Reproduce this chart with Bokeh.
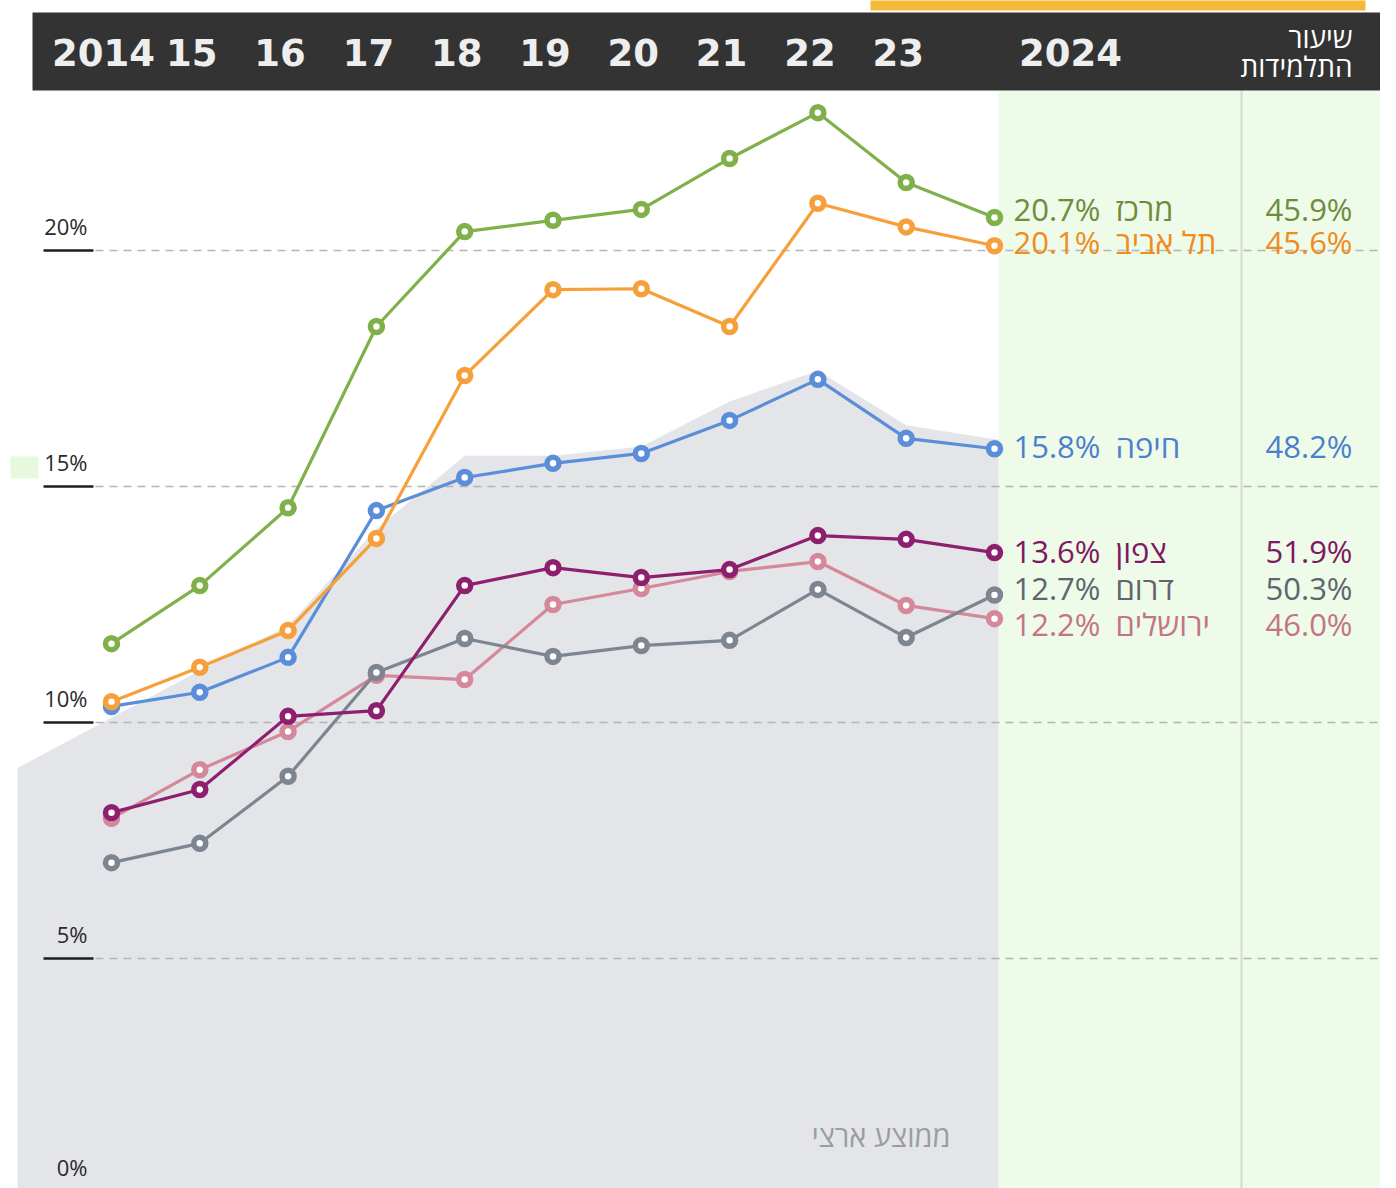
from bokeh.plotting import figure
from bokeh.models import Range1d, ColumnDataSource
from bokeh.core.properties import value
from bokeh.embed import file_html
from bokeh.resources import INLINE

# ---------------- data ----------------
years = [2014, 2015, 2016, 2017, 2018, 2019, 2020, 2021, 2022, 2023, 2024]
header_labels = ["2014", "15", "16", "17", "18", "19", "20", "21", "22", "23", "2024"]
regions = ["מרכז", "תל אביב", "חיפה", "צפון", "דרום", "ירושלים"]
center = [11.67, 12.9, 14.55, 18.39, 20.4, 20.64, 20.87, 21.95, 22.92, 21.44, 20.7]
tel_aviv = [10.44, 11.17, 11.95, 13.9, 17.35, 19.17, 19.19, 18.39, 21.0, 20.5, 20.1]
haifa = [10.34, 10.64, 11.38, 14.49, 15.19, 15.49, 15.7, 16.4, 17.27, 16.02, 15.8]
north = [8.09, 8.58, 10.13, 10.25, 12.9, 13.28, 13.07, 13.24, 13.96, 13.88, 13.6]
south = [7.03, 7.44, 8.86, 11.06, 11.78, 11.4, 11.63, 11.74, 12.82, 11.8, 12.7]
jerusalem = [7.97, 9.0, 9.81, 11.0, 10.91, 12.5, 12.84, 13.2, 13.41, 12.48, 12.2]
national = [10.1, 11.1, 12.05, 14.1, 15.65, 15.65, 15.85, 16.8, 17.45, 16.3, 16.0]
female_share = [45.9, 45.6, 48.2, 51.9, 50.3, 46.0]
y_ticks = [0, 5, 10, 15, 20]
header_title = ["שיעור", "התלמידות"]
national_label = "ממוצע ארצי"

series = [center, tel_aviv, haifa, north, south, jerusalem]

# ---------------- styles / layout ----------------
line_colors = ["#80b04a", "#f5a03a", "#5b8ed8", "#8e1f6e", "#7d8690", "#d4889a"]
text_colors = ["#6f8c3c", "#ef8c1f", "#4d7fcc", "#7f1862", "#5d6670", "#c47585"]
label_shift_px = [8, 4, 3, 2, 7, -5]  # label nudge (screen px, up positive)
draw_order = [5, 4, 3, 2, 1, 0]

W, H = 1380, 1188
OFF = 0            # page offset of the canvas
X2014 = 111.0      # px of 2014
PXY = 88.3         # px per year
Y0 = 1194.0        # px of 0%
PXV = 47.2         # px per percentage point


def xd(px):
    return 2014 + (px - X2014) / PXY


def yd(py):
    return (Y0 - py) / PXV


p = figure(width=W, height=H, output_backend="svg", toolbar_location=None,
           x_range=Range1d(xd(OFF), xd(OFF + W)),
           y_range=Range1d(yd(OFF + H), yd(OFF)),
           min_border=0, outline_line_color=None,
           background_fill_color="white", border_fill_color="white")
p.xaxis.visible = False
p.yaxis.visible = False
p.grid.visible = False

# background panels
p.quad(left=[xd(870)], right=[xd(1365)], top=[yd(-20)], bottom=[yd(10)],
       fill_color="#f5b935", line_color=None)
p.quad(left=[xd(998)], right=[xd(1380)], top=[yd(90)], bottom=[yd(1300)],
       fill_color="#eefbe8", line_color=None)
p.segment(x0=[xd(1241)], x1=[xd(1241)], y0=[yd(90)], y1=[yd(1300)],
          line_color="#d3dbd0", line_width=2)
p.quad(left=[xd(10)], right=[xd(38)], top=[yd(456)], bottom=[yd(478)],
       fill_color="#e6f8dd", line_color=None)

# national average area
slope0 = national[1] - national[0]
xl = xd(17)
xr = xd(998)
area_x = [xl] + years + [xr]
area_y = [national[0] + slope0 * (xl - years[0])] + national + [national[-1]]
p.varea(x=area_x, y1=[yd(1300)] * len(area_x), y2=area_y, fill_color="#e3e5e9")

# gridlines and ticks
p.segment(x0=[xd(95)] * len(y_ticks), x1=[xd(1380)] * len(y_ticks),
          y0=y_ticks, y1=y_ticks, line_color="#b4b4b4", line_width=1.5,
          line_dash="8 6")
p.segment(x0=[xd(43)] * len(y_ticks), x1=[xd(93)] * len(y_ticks),
          y0=y_ticks, y1=y_ticks, line_color="#1e1e1e", line_width=2.5)
tick_label_y = [max(t + 25 / PXV, yd(1166)) for t in y_ticks]
p.text(x=[xd(87)] * len(y_ticks), y=tick_label_y,
       text=[f"{t}%" for t in y_ticks], text_align="right",
       text_baseline="middle", text_font=value("Open Sans"),
       text_font_size="22px", text_color="#2a2a2a")

p.text(x=[xd(950)], y=[yd(1135)], text=[national_label], text_align="right",
       text_baseline="middle", text_font=value("Open Sans"),
       text_font_size="29px", text_color="#9a9ca2")

# header
p.quad(left=[xd(32)], right=[xd(1380)], top=[yd(12)], bottom=[yd(90)],
       fill_color="#333333", line_color=None)
hx = list(years)
hoff = [-8] * (len(years) - 1) + [76]
p.text(x=hx, y=[yd(52)] * len(hx), text=header_labels, x_offset=hoff,
       text_align="center", text_baseline="middle",
       text_font=value("DejaVu Sans"), text_font_style="bold",
       text_font_size="37px", text_color="#eeeeee")
p.text(x=[xd(1352)] * 2, y=[yd(36), yd(65)], text=header_title,
       text_align="right", text_baseline="middle",
       text_font=value("Open Sans"), text_font_size="28px",
       text_color="#ffffff")

# series
for i in draw_order:
    vals = series[i]
    src = ColumnDataSource(dict(x=years, y=vals))
    p.line("x", "y", source=src, line_color=line_colors[i], line_width=3.2)
    p.scatter("x", "y", source=src, size=12, fill_color="white",
              line_color=line_colors[i], line_width=5.5)

# end labels
for i, vals in enumerate(series):
    ly = vals[-1] + label_shift_px[i] / PXV
    p.text(x=[xd(1013)], y=[ly], text=[f"{vals[-1]:.1f}%"], text_align="left",
           text_baseline="middle", text_font=value("Open Sans"),
           text_font_size="31px", text_color=text_colors[i])
    p.text(x=[xd(1115)], y=[ly], text=[regions[i]], text_align="left",
           text_baseline="middle", text_font=value("Open Sans"),
           text_font_size="31px", text_color=text_colors[i])
    p.text(x=[xd(1352)], y=[ly], text=[f"{female_share[i]:.1f}%"],
           text_align="right", text_baseline="middle",
           text_font=value("Open Sans"), text_font_size="31px",
           text_color=text_colors[i])

open("out.html", "w").write(file_html(p, INLINE))
